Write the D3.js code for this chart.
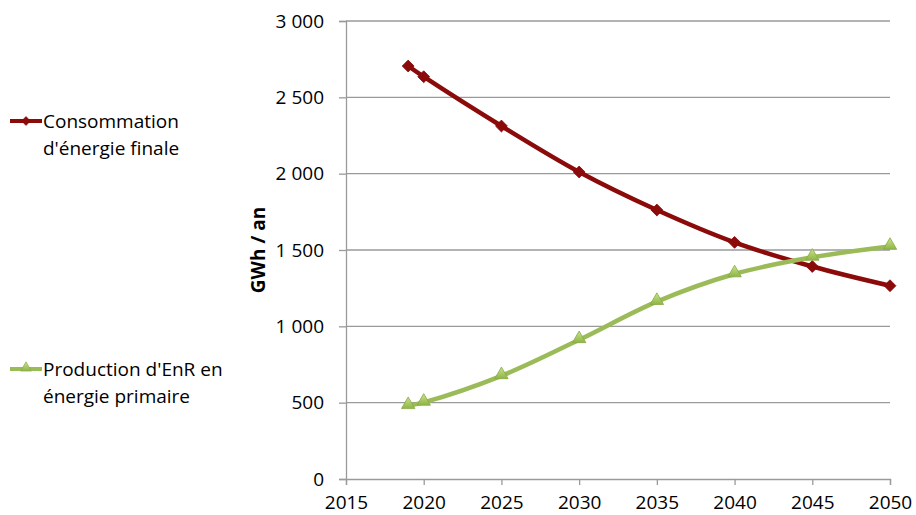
<!DOCTYPE html>
<html>
<head>
<meta charset="utf-8">
<script src="https://cdn.jsdelivr.net/npm/d3@7"></script>
<style>
  body { margin: 0; background: #fff; }
  svg { font-family: "Open Sans", "Liberation Sans", sans-serif; }
</style>
</head>
<body>
<div class="plot-container"></div>
<script>
const years = [2019, 2020, 2025, 2030, 2035, 2040, 2045, 2050];
const consommation = [2705, 2635, 2312, 2011, 1762, 1550, 1392, 1266];
const production = [480, 502, 676, 912, 1162, 1343, 1452, 1523];
const yTicks = [0, 500, 1000, 1500, 2000, 2500, 3000];
const xTicks = [2015, 2020, 2025, 2030, 2035, 2040, 2045, 2050];

const width = 916, height = 515;
const svg = d3.select("div.plot-container").append("svg")
  .attr("width", width).attr("height", height);

const x = d3.scaleLinear().domain([2015, 2050]).range([346, 890]);
const y = d3.scaleLinear().domain([0, 3000]).range([479, 21]);

const frFormat = d3.formatLocale({ decimal: ",", thousands: "\u00a0", grouping: [3], currency: ["", " €"] }).format(",d");

const GRID_COLOR = "#9a9a9a";
const RED = "#8b0a0a";
const GREEN = "#9bbb59";
const FONT_SIZE = 19;

// gridlines
svg.append("g")
  .selectAll("line")
  .data(yTicks.filter(d => d > 0))
  .enter()
  .append("line")
  .attr("x1", x(2015)).attr("x2", x(2050))
  .attr("y1", d => y(d)).attr("y2", d => y(d))
  .attr("stroke", GRID_COLOR).attr("stroke-width", 1.3);

// y axis
const yAxis = svg.append("g")
  .attr("transform", `translate(${x(2015)},0)`)
  .call(d3.axisLeft(y).tickValues(yTicks).tickFormat(frFormat).tickSize(7).tickPadding(15));
yAxis.select(".domain").attr("stroke", GRID_COLOR).attr("stroke-width", 1.3);
yAxis.selectAll(".tick line").attr("stroke", GRID_COLOR).attr("stroke-width", 1.3);
yAxis.selectAll("text").attr("font-size", FONT_SIZE).attr("fill", "#000").attr("font-family", "Open Sans");

// x axis
const xAxis = svg.append("g")
  .attr("transform", `translate(0,${y(0)})`)
  .call(d3.axisBottom(x).tickValues(xTicks).tickFormat(d3.format("d")).tickSize(6).tickPadding(11));
xAxis.select(".domain").attr("stroke", GRID_COLOR).attr("stroke-width", 1.3);
xAxis.selectAll(".tick line").attr("stroke", GRID_COLOR).attr("stroke-width", 1.3);
xAxis.selectAll("text").attr("font-size", FONT_SIZE).attr("fill", "#000").attr("font-family", "Open Sans");

// y title
svg.append("text")
  .attr("transform", `translate(265,${(y(0) + y(3000)) / 2}) rotate(-90)`)
  .attr("text-anchor", "middle")
  .attr("font-size", FONT_SIZE).attr("font-weight", "bold")
  .text("GWh / an");

const line = d3.line().curve(d3.curveCatmullRom.alpha(0.5));

// triangle gradient
const defs = svg.append("defs");
const grad = defs.append("linearGradient").attr("id", "tri").attr("x1", 0).attr("y1", 0).attr("x2", 0).attr("y2", 1);
grad.append("stop").attr("offset", "0%").attr("stop-color", "#c9e48a");
grad.append("stop").attr("offset", "100%").attr("stop-color", "#8fb446");

const diamond = d3.symbol().type(d3.symbolSquare).size(70);
const triangle = d3.symbol().type(d3.symbolTriangle).size(78);

const series = [
  { name: ["Consommation", "d'énergie finale"], values: consommation, color: RED, tri: false, legendY: 121 },
  { name: ["Production d'EnR en", "énergie primaire"], values: production, color: GREEN, tri: true, legendY: 369 }
];

function marker(sel, s) {
  sel.attr("d", s.tri ? triangle : diamond)
    .attr("fill", s.tri ? "url(#tri)" : s.color)
    .attr("stroke", s.tri ? "#86a943" : s.color)
    .attr("stroke-width", 0.8);
}

series.forEach(s => {
  const pts = years.map((yr, i) => [x(yr), y(s.values[i])]);
  svg.append("path")
    .attr("d", line(pts))
    .attr("fill", "none")
    .attr("stroke", s.color)
    .attr("stroke-width", 4.5)
    .attr("stroke-linejoin", "round");

  svg.append("g")
    .selectAll("path")
    .data(pts)
    .enter()
    .append("path")
    .call(marker, s)
    .attr("transform", d => s.tri
      ? `translate(${d[0]},${d[1] - 1})`
      : `translate(${d[0]},${d[1]}) rotate(45)`);

  // legend
  const lg = svg.append("g").attr("transform", `translate(0,${s.legendY})`);
  lg.append("line")
    .attr("x1", 10).attr("x2", 42)
    .attr("stroke", s.color).attr("stroke-width", 4);
  lg.append("path")
    .call(marker, s)
    .attr("transform", s.tri ? "translate(26,-1) scale(0.8)" : "translate(26,0) rotate(45) scale(0.75)");
  lg.selectAll("text")
    .data(s.name)
    .enter()
    .append("text")
    .attr("x", 43)
    .attr("y", (d, i) => i * 27)
    .attr("dy", "0.35em")
    .attr("font-size", FONT_SIZE)
    .text(d => d);
});
</script>
</body>
</html>
